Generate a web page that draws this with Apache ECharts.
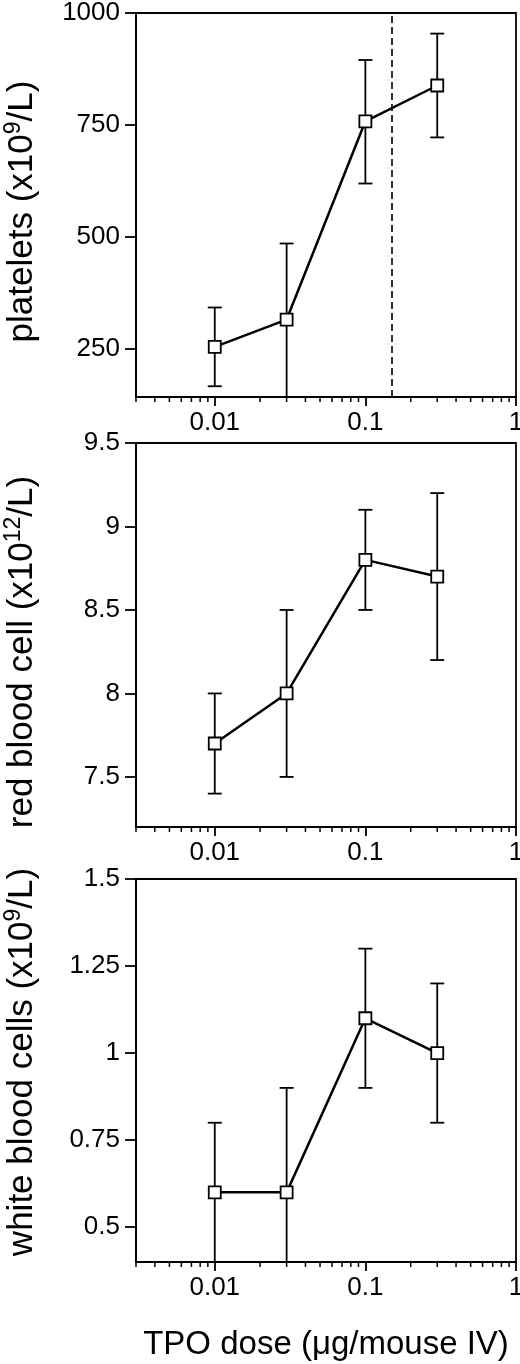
<!DOCTYPE html>
<html>
<head>
<meta charset="utf-8" />
<title>TPO dose response</title>
<script src="https://cdn.jsdelivr.net/npm/echarts@6/dist/echarts.min.js"></script>
<style>
  html, body { margin: 0; padding: 0; background: #fff; }
  #chart { width: 520px; height: 1364px; }
</style>
</head>
<body>
<div id="chart"></div>
<script type="text/javascript">
// doses (ug/mouse IV)
var doses = [0.01, 0.03, 0.1, 0.3];

// platelets (x10^9/L)
var plateletMean = [254, 315, 758, 838];
var plateletLow = [166, 140, 619, 722];
var plateletHigh = [342, 485, 895, 954];

// red blood cell (x10^12/L)
var rbcMean = [7.7, 8.0, 8.8, 8.7];
var rbcLow = [7.4, 7.5, 8.5, 8.2];
var rbcHigh = [8.0, 8.5, 9.1, 9.2];

// white blood cells (x10^9/L)
var wbcMean = [0.6, 0.6, 1.1, 1.0];
var wbcLow = [0.4, 0.3, 0.9, 0.8];
var wbcHigh = [0.8, 0.9, 1.3, 1.2];

// axis tick values
var plateletTicks = [250, 500, 750, 1000];
var rbcTicks = [7.5, 8, 8.5, 9, 9.5];
var wbcTicks = [0.5, 0.75, 1, 1.25, 1.5];
var minorDoseTicks = [0.003, 0.004, 0.005, 0.006, 0.007, 0.008, 0.009,
  0.02, 0.03, 0.04, 0.05, 0.06, 0.07, 0.08, 0.09,
  0.2, 0.3, 0.4, 0.5, 0.6, 0.7, 0.8, 0.9];
var dashedDose = 0.15;

var FONT = "'Liberation Sans', Arial, Helvetica, sans-serif";

var myChart = echarts.init(document.getElementById('chart'), null, { renderer: 'canvas' });

function zip(xs, ys) {
  return xs.map(function (x, i) { return [x, ys[i]]; });
}
function zip3(xs, lo, hi) {
  return xs.map(function (x, i) { return [x, lo[i], hi[i]]; });
}

// vertical error bar with caps
function errorBarItem(params, api) {
  var x = api.value(0);
  var pHi = api.coord([x, api.value(2)]);
  var pLo = api.coord([x, api.value(1)]);
  var w = 7;
  var st = { stroke: '#000', lineWidth: 1.8 };
  return {
    type: 'group',
    children: [
      { type: 'line', shape: { x1: pHi[0], y1: pHi[1], x2: pLo[0], y2: pLo[1] }, style: st },
      { type: 'line', shape: { x1: pHi[0] - w, y1: pHi[1], x2: pHi[0] + w, y2: pHi[1] }, style: st },
      { type: 'line', shape: { x1: pLo[0] - w, y1: pLo[1], x2: pLo[0] + w, y2: pLo[1] }, style: st }
    ]
  };
}

// minor ticks along the log axis (2..9 x 10^n)
function minorTickItem(params, api) {
  var p = api.coord([api.value(0), api.value(1)]);
  var bottom = params.coordSys.y + params.coordSys.height;
  return {
    type: 'line',
    shape: { x1: p[0], y1: bottom, x2: p[0], y2: bottom + 5 },
    style: { stroke: '#000', lineWidth: 1.5 }
  };
}

function xAxisFor(idx, withName) {
  var ax = {
    type: 'log',
    logBase: 10,
    gridIndex: idx,
    min: 0.003,
    max: 1,
    axisLine: { lineStyle: { color: '#000', width: 1.8 } },
    axisTick: { length: 9, lineStyle: { color: '#000', width: 1.8 } },
    axisLabel: {
      color: '#000', fontSize: 26, fontFamily: FONT, margin: 13,
      showMinLabel: false,
      formatter: function (v) { return String(v); }
    },
    splitLine: { show: false }
  };
  if (withName) {
    ax.name = 'TPO dose (μg/mouse IV)';
    ax.nameLocation = 'middle';
    ax.nameGap = 66;
    ax.nameTextStyle = { color: '#000', fontSize: 33, fontFamily: FONT };
  }
  return ax;
}

// shift = padding used to slide the rotated title along the axis
function yAxisFor(idx, min, max, ticks, name, shift) {
  return {
    type: 'value',
    gridIndex: idx,
    min: min,
    max: max,
    name: name,
    nameLocation: 'middle',
    nameRotate: 90,
    nameGap: 94,
    nameTextStyle: {
      color: '#000', fontSize: 35, fontFamily: FONT,
      padding: shift,
      rich: {
        n: { fontSize: 35, fontFamily: FONT, color: '#000', lineHeight: 40 },
        s: { fontSize: 23, fontFamily: FONT, color: '#000', verticalAlign: 'top', lineHeight: 40 }
      }
    },
    axisLine: { show: true, lineStyle: { color: '#000', width: 1.8 } },
    axisTick: { show: true, length: 11, customValues: ticks, lineStyle: { color: '#000', width: 1.8 } },
    axisLabel: {
      color: '#000', fontSize: 26, fontFamily: FONT, margin: 16,
      customValues: ticks,
      formatter: function (v) { return String(v); }
    },
    splitLine: { show: false }
  };
}

function gridAt(top, height) {
  return {
    left: 136, top: top, width: 380, height: height,
    outerBoundsMode: 'none',
    containLabel: false,
    show: true, borderColor: '#000', borderWidth: 1.8, backgroundColor: 'transparent'
  };
}

function lineSeries(idx, means) {
  return {
    type: 'line',
    xAxisIndex: idx,
    yAxisIndex: idx,
    data: zip(doses, means),
    symbol: 'rect',
    symbolSize: 12,
    showSymbol: true,
    lineStyle: { color: '#000', width: 2.5 },
    itemStyle: { color: '#fff', borderColor: '#000', borderWidth: 1.8 },
    z: 5,
    animation: false
  };
}

function errorSeries(idx, lo, hi) {
  return {
    type: 'custom',
    xAxisIndex: idx,
    yAxisIndex: idx,
    renderItem: errorBarItem,
    data: zip3(doses, lo, hi),
    encode: { x: 0, y: [1, 2] },
    clip: true,
    z: 3,
    silent: true,
    animation: false
  };
}

function minorSeries(idx, yMin) {
  return {
    type: 'custom',
    xAxisIndex: idx,
    yAxisIndex: idx,
    renderItem: minorTickItem,
    data: minorDoseTicks.map(function (v) { return [v, yMin]; }),
    encode: { x: 0, y: 1 },
    clip: false,
    z: 2,
    silent: true,
    animation: false
  };
}

var plateletLine = lineSeries(0, plateletMean);
plateletLine.markLine = {
  silent: true,
  symbol: ['none', 'none'],
  label: { show: false },
  lineStyle: { color: '#000', width: 1.6, type: [7, 4] },
  data: [{ xAxis: dashedDose }]
};

var option = {
  animation: false,
  backgroundColor: '#fff',
  textStyle: { fontFamily: FONT },
  grid: [gridAt(13, 384), gridAt(443, 384), gridAt(879, 383)],
  xAxis: [xAxisFor(0, false), xAxisFor(1, false), xAxisFor(2, true)],
  yAxis: [
    yAxisFor(0, 142, 1000, plateletTicks, '{n|platelets (x10}{s|9}{n|/L)}', [0, 13, 0, 0]),
    yAxisFor(1, 7.2, 9.5, rbcTicks, '{n|red blood cell (x10}{s|12}{n|/L)}', [0, 34, 0, 0]),
    yAxisFor(2, 0.4, 1.5, wbcTicks, '{n|white blood cells (x10}{s|9}{n|/L)}', [0, 0, 0, 17])
  ],
  series: [
    minorSeries(0, 142), errorSeries(0, plateletLow, plateletHigh), plateletLine,
    minorSeries(1, 7.2), errorSeries(1, rbcLow, rbcHigh), lineSeries(1, rbcMean),
    minorSeries(2, 0.4), errorSeries(2, wbcLow, wbcHigh), lineSeries(2, wbcMean)
  ]
};

myChart.setOption(option);
</script>
</body>
</html>
